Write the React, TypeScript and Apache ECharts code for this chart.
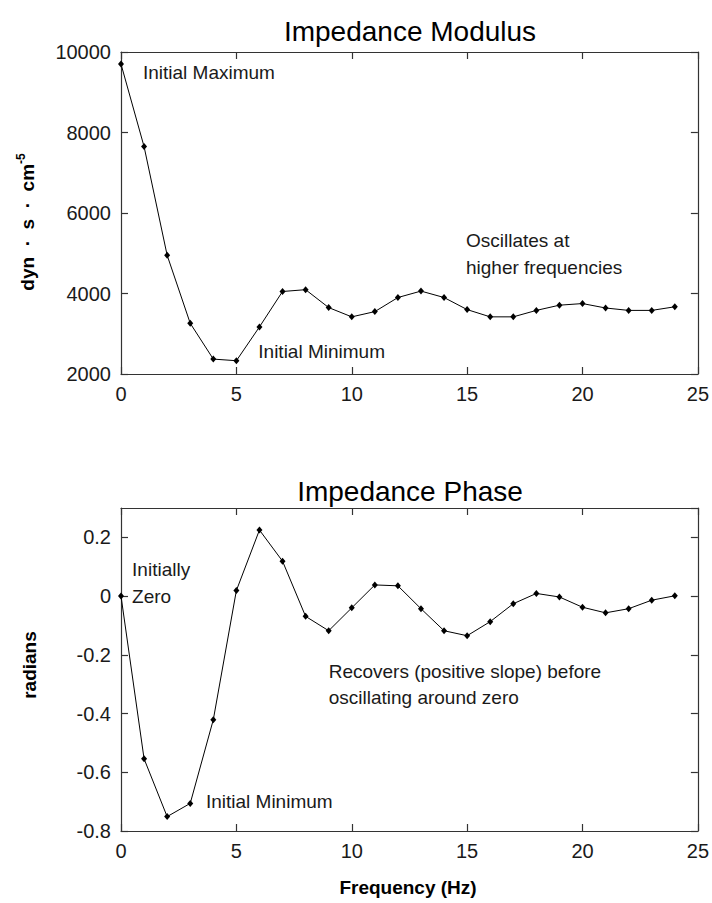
import React, { useEffect, useRef } from "react";
import * as echarts from "echarts";

// Frequency samples (Hz)
const frequency = [0, 1, 2, 3, 4, 5, 6, 7, 8, 9, 10, 11, 12, 13, 14, 15, 16, 17, 18, 19, 20, 21, 22, 23, 24];

// Impedance modulus (dyn·s·cm^-5)
const modulus = [9700, 7650, 4950, 3260, 2370, 2330, 3170, 4050, 4095, 3650, 3420, 3550, 3900, 4060, 3900, 3600, 3420, 3420, 3580, 3710, 3750, 3640, 3580, 3580, 3670];

// Impedance phase (radians)
const phase = [0, -0.554, -0.751, -0.706, -0.421, 0.019, 0.225, 0.119, -0.069, -0.118, -0.04, 0.038, 0.035, -0.043, -0.118, -0.135, -0.087, -0.026, 0.009, -0.003, -0.038, -0.057, -0.043, -0.014, 0.001];

// Axis tick settings
const freqTicks = { min: 0, max: 25, interval: 5 };
const modulusTicks = { min: 2000, max: 10000, interval: 2000 };
const phaseTicks = { min: -0.8, max: 0.3, interval: 0.2 };

const FONT = "'Liberation Sans', Arial, Helvetica, sans-serif";
const TEXT = "#1a1a1a";
const BOX = "#333";

// plain numbers, no thousands separators
const plain = (v: number) => String(Math.round(v * 1000) / 1000);

function axisPair(gridIndex: number, ticks: { min: number; max: number; interval: number }, isX: boolean, hideMax = false) {
  const common = {
    type: "value" as const,
    gridIndex,
    min: ticks.min,
    max: ticks.max,
    interval: ticks.interval,
    splitLine: { show: false },
    axisLine: { show: true, onZero: false, lineStyle: { color: BOX, width: 1.2 } },
    axisTick: { show: true, inside: true, length: 7, lineStyle: { color: BOX, width: 1.2 } },
  };
  return [
    {
      ...common,
      position: isX ? "bottom" : "left",
      axisLabel: {
        show: true,
        fontFamily: FONT,
        fontSize: 20,
        color: TEXT,
        margin: 10,
        showMaxLabel: !hideMax,
        formatter: plain,
      },
    },
    {
      ...common,
      position: isX ? "top" : "right",
      axisLabel: { show: false },
    },
  ];
}

function note(text: string, x: number, y: number, lineHeight = 27) {
  return {
    coord: [x, y],
    symbol: "circle",
    symbolSize: 0,
    label: {
      show: true,
      formatter: text,
      position: [0, 0],
      align: "left",
      verticalAlign: "middle",
      fontFamily: FONT,
      fontSize: 19,
      lineHeight,
      color: TEXT,
    },
  };
}

function lineSeries(values: number[], axisIndex: number, notes: any[]) {
  return {
    type: "line",
    xAxisIndex: axisIndex,
    yAxisIndex: axisIndex,
    data: frequency.map((f, i) => [f, values[i]]),
    symbol: "diamond",
    symbolSize: [6, 7],
    showSymbol: true,
    itemStyle: { color: "#000" },
    lineStyle: { color: "#000", width: 1 },
    markPoint: { silent: true, data: notes },
  };
}

export default function App() {
  const ref = useRef<HTMLDivElement>(null);

  useEffect(() => {
    if (!ref.current) return;
    const chart = echarts.init(ref.current, undefined, { renderer: "svg" });

    const xTop = axisPair(0, freqTicks, true);
    const xBottom = axisPair(1, freqTicks, true);
    const yTop = axisPair(0, modulusTicks, false);
    const yBottom = axisPair(1, phaseTicks, false, true);

    chart.setOption({
      animation: false,
      backgroundColor: "#fff",
      grid: [
        { left: 121, top: 52, width: 578, height: 322 },
        { left: 121, top: 508, width: 578, height: 323 },
      ],
      // axes 0,1 -> upper panel, 2,3 -> lower panel (series use 0 and 1)
      xAxis: [xTop[0], xBottom[0], xTop[1], xBottom[1]],
      yAxis: [yTop[0], yBottom[0], yTop[1], yBottom[1]],
      series: [
        {
          ...lineSeries(modulus, 0, [
            note("Initial Maximum", 0.95, 9500),
            note("Initial Minimum", 5.95, 2570),
            note("Oscillates at\nhigher frequencies", 14.95, 4980),
          ]),
        },
        {
          ...lineSeries(phase, 1, [
            note("Initially\nZero", 0.48, 0.044),
            note("Initial Minimum", 3.68, -0.7),
            note("Recovers (positive slope) before\noscillating around zero", 9.0, -0.3, 26),
          ]),
        },
      ],
      graphic: [
        {
          type: "text",
          x: 410,
          y: 31,
          style: { text: "Impedance Modulus", fontFamily: FONT, fontSize: 28, fill: "#000", textAlign: "center", textVerticalAlign: "middle" },
        },
        {
          type: "text",
          x: 410,
          y: 491,
          style: { text: "Impedance Phase", fontFamily: FONT, fontSize: 28, fill: "#000", textAlign: "center", textVerticalAlign: "middle" },
        },
        {
          type: "text",
          x: 26,
          y: 222,
          rotation: Math.PI / 2,
          style: {
            text: "{m|dyn  ·  s  ·  cm}{s|-5}",
            textAlign: "center",
            textVerticalAlign: "middle",
            rich: {
              m: { fontFamily: FONT, fontSize: 19, fontWeight: "bold", fill: "#000", lineHeight: 22, verticalAlign: "bottom" },
              s: { fontFamily: FONT, fontSize: 12, fontWeight: "bold", fill: "#000", lineHeight: 22, verticalAlign: "top" },
            },
          },
        },
        {
          type: "text",
          x: 29,
          y: 665,
          rotation: Math.PI / 2,
          style: { text: "radians", fontFamily: FONT, fontSize: 19, fontWeight: "bold", fill: "#000", textAlign: "center", textVerticalAlign: "middle" },
        },
        {
          type: "text",
          x: 408,
          y: 887,
          style: { text: "Frequency (Hz)", fontFamily: FONT, fontSize: 19, fontWeight: "bold", fill: "#000", textAlign: "center", textVerticalAlign: "middle" },
        },
      ],
    });

    return () => chart.dispose();
  }, []);

  return <div ref={ref} style={{ position: "fixed", left: 0, top: 0, width: 712, height: 903 }} />;
}
